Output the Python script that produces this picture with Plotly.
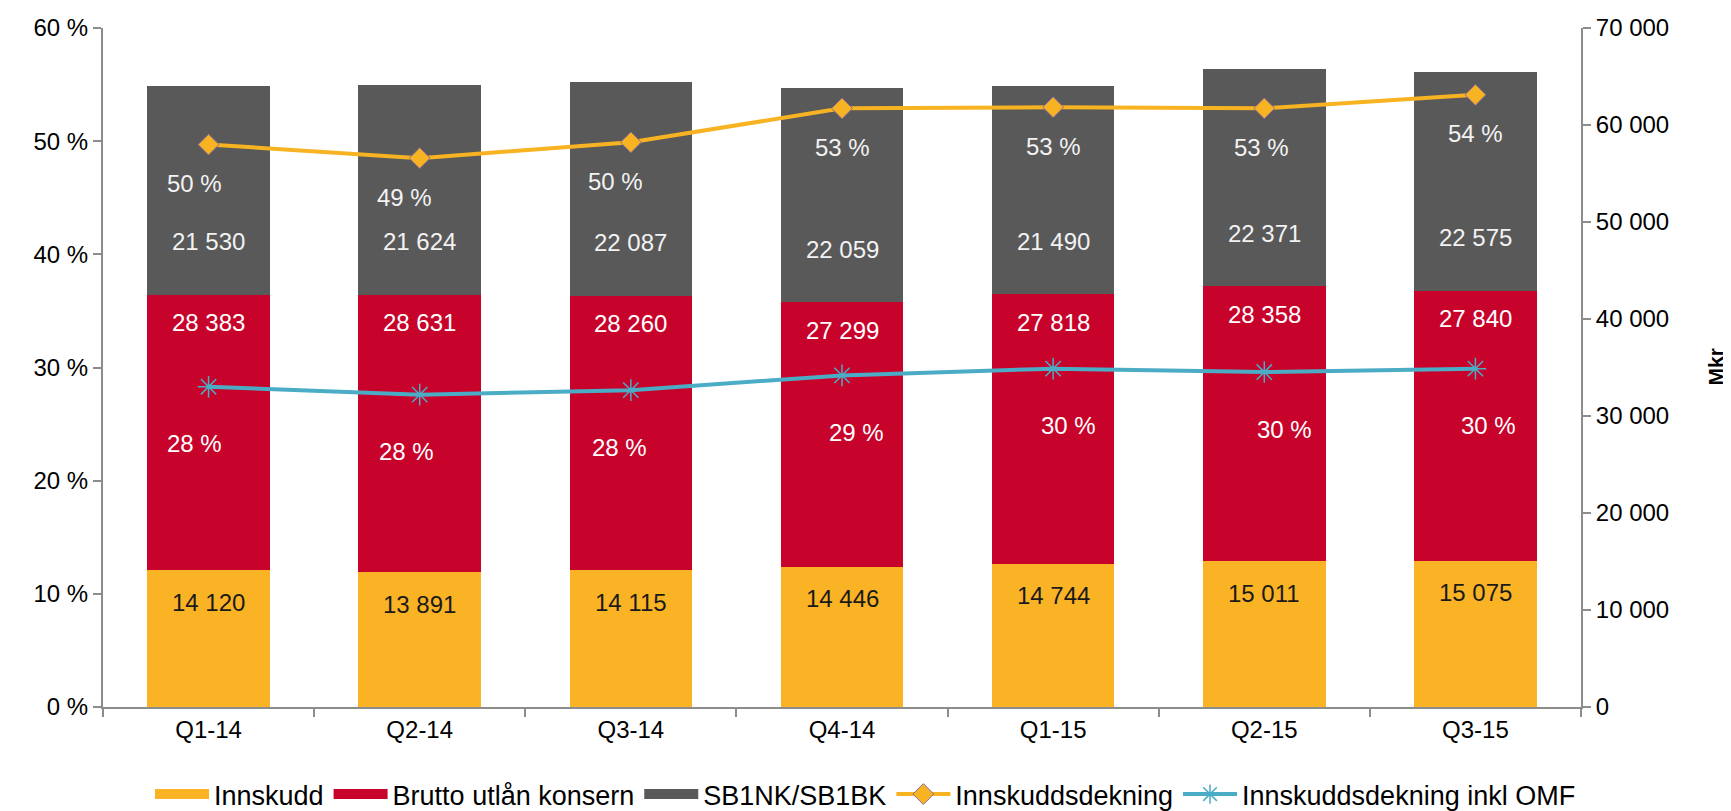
import plotly.graph_objects as go

categories = ["Q1-14", "Q2-14", "Q3-14", "Q4-14", "Q1-15", "Q2-15", "Q3-15"]
innskudd = [14120, 13891, 14115, 14446, 14744, 15011, 15075]
brutto = [28383, 28631, 28260, 27299, 27818, 28358, 27840]
sb1nk = [21530, 21624, 22087, 22059, 21490, 22371, 22575]
dekning = [49.7, 48.5, 49.9, 52.9, 53.0, 52.9, 54.1]
dekning_omf = [28.3, 27.6, 28.0, 29.3, 29.9, 29.6, 29.9]
dekning_labels = ["50 %", "49 %", "50 %", "53 %", "53 %", "53 %", "54 %"]
omf_labels = ["28 %", "28 %", "28 %", "29 %", "30 %", "30 %", "30 %"]
pct_ticks = [0, 10, 20, 30, 40, 50, 60]
pct_ticktext = ["0 %", "10 %", "20 %", "30 %", "40 %", "50 %", "60 %"]
mkr_ticks = [0, 10000, 20000, 30000, 40000, 50000, 60000, 70000]

# styling
C_INN = "#FBB326"
C_BRU = "#C8032B"
C_SB1 = "#595959"
C_LY = "#F8B322"
C_LC = "#4BACC6"
FONT = "Liberation Sans, Arial, sans-serif"
FS = 24
LFS = 27
AX = "#8C8C8C"
dek_dx = [-14, -15, -15, 0, 0, -3, 0]
omf_dx = [-14, -13, -11, 14, 15, 20, 13]
OFF = 8  # page body margin


def fmt(v):
    return f"{v:,}".replace(",", " ")


fig = go.Figure()
bar_series = [("Innskudd", innskudd, C_INN), ("Brutto utlån konsern", brutto, C_BRU),
              ("SB1NK/SB1BK", sb1nk, C_SB1)]
for name, vals, col in bar_series:
    fig.add_trace(go.Bar(name=name, x=categories, y=vals, marker_color=col,
                         marker_line_width=0, yaxis="y", showlegend=False))
for name, vals, col in bar_series:
    # legend swatch only (wide rectangle like the reference)
    fig.add_trace(go.Scatter(name=name, x=[None], y=[None], mode="lines", yaxis="y",
                             line=dict(color=col, width=18)))
fig.add_trace(go.Scatter(name="Innskuddsdekning", x=categories, y=dekning, yaxis="y2",
                         mode="lines+markers", line=dict(color=C_LY, width=4),
                         marker=dict(symbol="diamond", size=16, color=C_LY,
                                     line=dict(color="#8B6A9A", width=1))))
fig.add_trace(go.Scatter(name="Innskuddsdekning inkl OMF", x=categories, y=dekning_omf, yaxis="y2",
                         mode="lines+markers", line=dict(color=C_LC, width=4),
                         marker=dict(symbol="asterisk-open", size=18, color=C_LC,
                                     line=dict(color=C_LC, width=1.5))))

ann = []
for i, c in enumerate(categories):
    b1 = innskudd[i]
    b2 = b1 + brutto[i]
    ann.append(dict(x=c, y=b1, yref="y", text=fmt(innskudd[i]), showarrow=False, yshift=-32,
                    font=dict(color="#1a1a1a", size=FS, family=FONT)))
    ann.append(dict(x=c, y=b2, yref="y", text=fmt(brutto[i]), showarrow=False, yshift=-28,
                    font=dict(color="white", size=FS, family=FONT)))
    ann.append(dict(x=c, y=b2, yref="y", text=fmt(sb1nk[i]), showarrow=False, yshift=53,
                    font=dict(color="#F2F2F2", size=FS, family=FONT)))
    ann.append(dict(x=c, y=dekning[i], yref="y2", text=dekning_labels[i], showarrow=False,
                    yshift=-39, xshift=dek_dx[i], font=dict(color="#F2F2F2", size=FS, family=FONT)))
    ann.append(dict(x=c, y=dekning_omf[i], yref="y2", text=omf_labels[i], showarrow=False,
                    yshift=-57, xshift=omf_dx[i], font=dict(color="white", size=FS, family=FONT)))

ann.append(dict(x=1, xref="paper", xanchor="center", y=0.5, yref="paper", xshift=134,
                text="<b>Mkr</b>", textangle=-90, showarrow=False,
                font=dict(size=21, color="black", family="Liberation Sans, Arial, sans-serif")))

fig.update_layout(
    width=1731, height=811,
    margin=dict(l=103 - OFF, r=150 + OFF, t=28 - OFF, b=104 + OFF, autoexpand=False),
    paper_bgcolor="white", plot_bgcolor="white",
    barmode="stack", bargap=0.42,
    separators=". ",
    font=dict(family=FONT, size=FS, color="black"),
    showlegend=True,
    legend=dict(orientation="h", x=0.5 - OFF / 1731, xanchor="center", xref="container",
                y=0.0, yanchor="bottom", yref="container",
                font=dict(size=LFS, family=FONT), itemwidth=54,
                traceorder="normal"),
    xaxis=dict(showline=True, linecolor=AX, linewidth=2, ticks="outside", tickson="boundaries",
               ticklen=8, tickcolor=AX, tickwidth=2, showgrid=False, zeroline=False,
               tickfont=dict(size=FS, family=FONT)),
    yaxis=dict(side="right", range=[0, 70000], tickvals=mkr_ticks, tickformat=",d",
               showline=True, linecolor=AX, linewidth=2, ticks="outside", ticklen=8,
               tickcolor=AX, tickwidth=2, showgrid=False, zeroline=False,
               tickfont=dict(size=FS, family=FONT)),
    yaxis2=dict(side="left", overlaying="y", range=[0, 60], tickvals=pct_ticks,
                ticktext=pct_ticktext,
                showline=True, linecolor=AX, linewidth=2, ticks="outside", ticklen=8,
                tickcolor=AX, tickwidth=2, showgrid=False, zeroline=False,
                tickfont=dict(size=FS, family=FONT)),
    annotations=ann,
)

fig.write_html("out.html")
